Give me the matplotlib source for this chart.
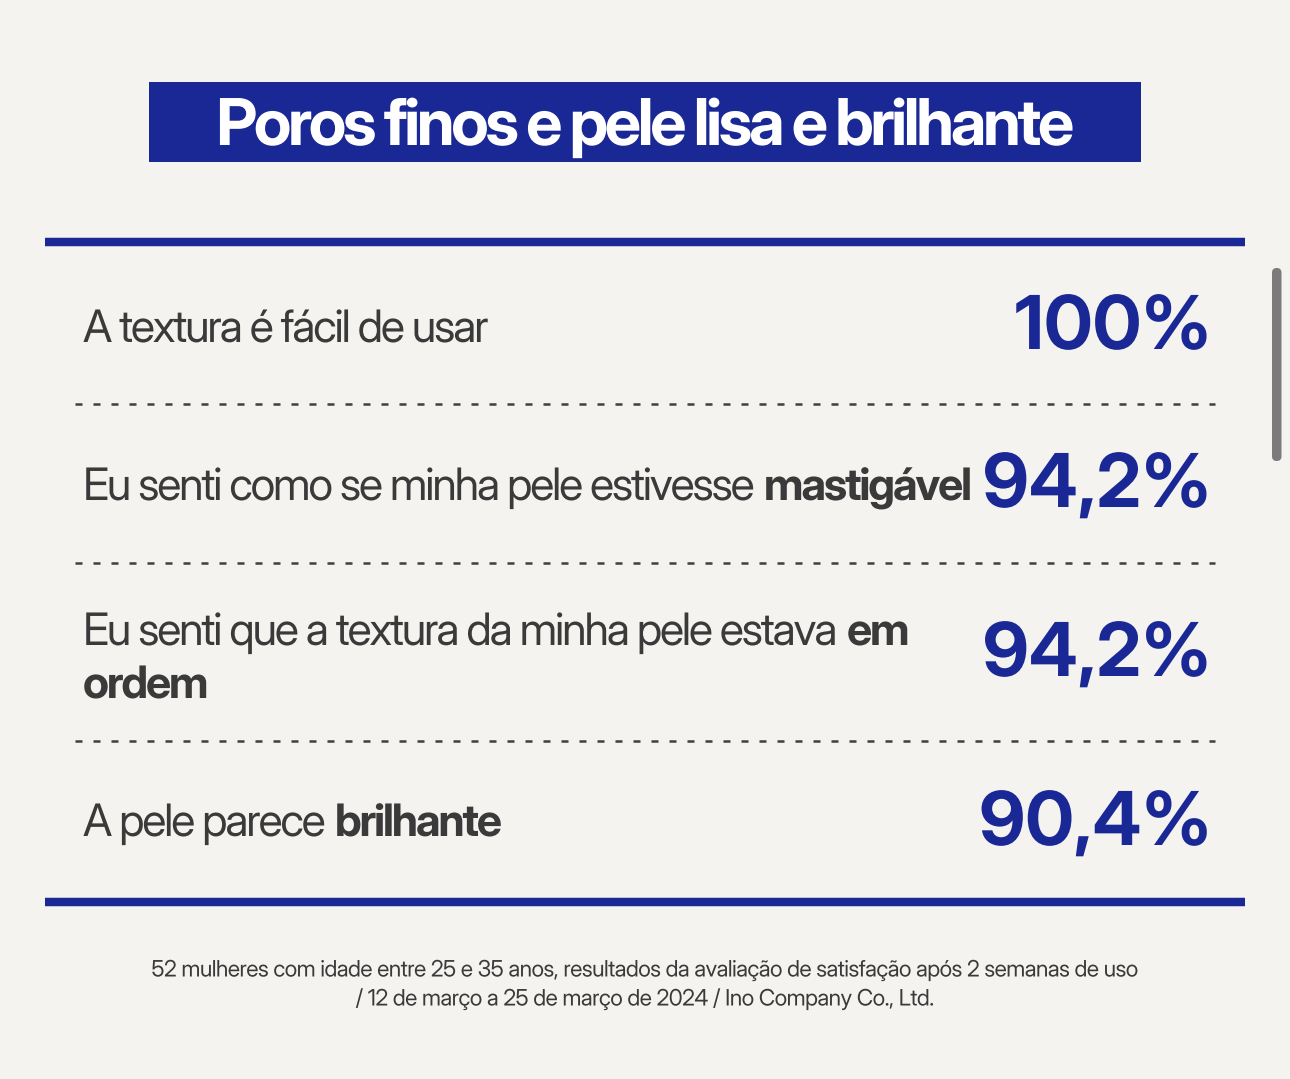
import numpy as np
import matplotlib
matplotlib.use("Agg")
import matplotlib.pyplot as plt
from matplotlib.patches import Rectangle, FancyBboxPatch
from matplotlib.patheffects import AbstractPathEffect
from matplotlib.textpath import text_to_path
from matplotlib.path import Path

# ---- data ----
title = "Poros finos e pele lisa e brilhante"
row_labels = [
    [[("A textura é fácil de usar", False)]],
    [[("Eu senti como se minha pele estivesse", False), ("mastigável", True)]],
    [[("Eu senti que a textura da minha pele estava", False), ("em", True)],
     [("ordem", True)]],
    [[("A pele parece", False), ("brilhante", True)]],
]
row_values = ["100%", "94,2%", "94,2%", "90,4%"]
footnote = ["52 mulheres com idade entre 25 e 35 anos, resultados da avaliação de satisfação após 2 semanas de uso",
            "/ 12 de março a 25 de março de 2024 / Ino Company Co., Ltd."]

# ---- style ----
BG = "#f4f3f0"
BLUE = "#1a2896"
TXT = "#3a3a3a"
FAMILY = ["Inter Display", "Inter", "DejaVu Sans"]
plt.rcParams['font.family'] = FAMILY

W, H = 1290, 1079
fig = plt.figure(figsize=(W / 100, H / 100), dpi=100, facecolor=BG)
ax = fig.add_axes([0, 0, 1, 1])
ax.set_xlim(0, W)
ax.set_ylim(H, 0)
ax.axis("off")
ax.set_facecolor(BG)
fig.canvas.draw()
renderer = fig.canvas.get_renderer()


class Tracking(AbstractPathEffect):
    """Draw text at `ratio` times the layout size with CSS-like letter spacing."""
    def __init__(self, s, prop, track_em, ratio):
        super().__init__()
        self.s, self.prop, self.track, self.ratio = s, prop, track_em, ratio

    def draw_path(self, rend, gc, tpath, affine, rgbFace=None):
        font = text_to_path._get_font(self.prop)
        info, gmap, _ = text_to_path.get_glyphs_with_font(font, self.s)
        step = self.track * text_to_path.FONT_SCALE
        verts, codes = [], []
        for i, (gid, xp, yp, sc) in enumerate(info):
            v, c = gmap[gid]
            v = np.asarray(v, float)
            if len(v) == 0:
                continue
            verts.append((v * sc + [xp + i * step, yp]) * self.ratio)
            codes.append(np.asarray(c))
        if not verts:
            return
        rend.draw_path(gc, Path(np.concatenate(verts), np.concatenate(codes)), affine, rgbFace)


def natural_width(s, fs, weight):
    t = ax.text(0, 0, s, fontsize=fs, fontweight=weight)
    w = t.get_window_extent(renderer).width
    t.remove()
    return w


def calib(s, fs, weight, target_px):
    em = fs * 100 / 72
    return (target_px - natural_width(s, fs, weight)) / ((len(s) - 1) * em)


def ttext(x, y, s, fs, weight, color, ha, track):
    nat = natural_width(s, fs, weight)
    em = fs * 100 / 72
    tracked = nat + track * em * (len(s) - 1)
    layout_fs = fs * tracked / nat          # layout box matches the tracked width
    t = ax.text(x, y, s, fontsize=layout_fs, fontweight=weight, color=color, ha=ha, va="baseline")
    prop = t.get_fontproperties().copy()
    prop.set_size(fs)
    t.set_path_effects([Tracking(s, prop, track, fs / layout_fs)])
    return tracked


# font sizes and letter spacing calibrated to the reference
TITLE_FS, LABEL_FS, VALUE_FS, FOOT_FS = 46.5, 32.2, 53.5, 16.3
TITLE_TR = calib(title, TITLE_FS, "bold", 859)
LABEL_TR = calib(row_labels[0][0][0][0], LABEL_FS, "normal", 406)
VALUE_TR = calib(row_values[0], VALUE_FS, "bold", 196)
FOOT_TR = calib(footnote[0], FOOT_FS, "normal", 985)
em_label = LABEL_FS * 100 / 72
space_w = natural_width("x x", LABEL_FS, "normal") - natural_width("xx", LABEL_FS, "normal") + LABEL_TR * em_label

# title box
ax.add_patch(Rectangle((149, 82), 992, 80, facecolor=BLUE, edgecolor="none"))
ttext(645, 145, title, TITLE_FS, "bold", "white", "center", TITLE_TR)

# rules
ax.plot([45, 1245], [242, 242], color=BLUE, lw=6.1, solid_capstyle="butt")
ax.plot([45, 1245], [902, 902], color=BLUE, lw=6.1, solid_capstyle="butt")
for yd in [404, 563, 741]:
    ax.plot([75, 1215], [yd, yd], color="#404040", lw=1.8, dashes=(2.8, 4.4), solid_capstyle="butt")


def draw_line(x, y, segs):
    for s, bold in segs:
        w = ttext(x, y, s, LABEL_FS, "bold" if bold else "normal", TXT, "left", LABEL_TR)
        x += w + space_w


label_baselines = [[342], [500], [645, 698], [836]]
value_baselines = [349, 507, 676, 845]
for lines, bls, val, vb in zip(row_labels, label_baselines, row_values, value_baselines):
    for segs, bl in zip(lines, bls):
        draw_line(83, bl, segs)
    ttext(1211, vb, val, VALUE_FS, "bold", BLUE, "right", VALUE_TR)

# footnote
for s, yb in zip(footnote, [976.5, 1005.5]):
    ttext(645, yb, s, FOOT_FS, "normal", TXT, "center", FOOT_TR)

# scrollbar
ax.add_patch(FancyBboxPatch((1272, 268), 9.5, 193, boxstyle="round,pad=0,rounding_size=4.7",
                            facecolor="#7b7b7b", edgecolor="none"))

fig.savefig("out.png", dpi=100, facecolor=BG)
